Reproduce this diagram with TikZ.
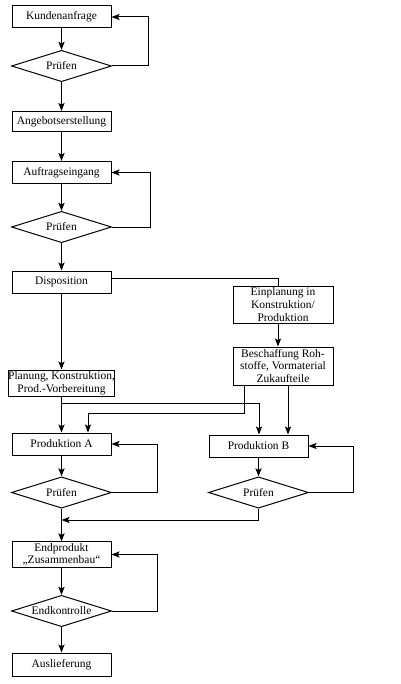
\documentclass[tikz,border=0pt]{standalone}
\usepackage{fontspec}
\setmainfont{Liberation Serif}
\usetikzlibrary{shapes.geometric,arrows.meta,calc}
\begin{document}
\begin{tikzpicture}[x=0.75pt,y=-0.75pt,
  every node/.style={font=\fontsize{8.6}{9.5}\selectfont},
  box/.style={draw,line width=0.75pt,rectangle,align=center,inner sep=0pt,minimum width=74.25pt,minimum height=16.5pt},
  dia/.style={draw,line width=0.75pt,diamond,aspect=3,inner sep=0pt,minimum width=75pt,minimum height=23.5pt},
  con/.style={line width=0.75pt},
  arr/.style={con,-{Stealth[length=6pt,width=4.6pt,inset=1.2pt]}}]
\useasboundingbox (0,0) rectangle (400,684);
\node[box] (k1) at (61.5,17) {Kundenanfrage};
\node[dia] (d1) at (61.5,66) {Prüfen};
\node[box,minimum height=15pt] (ang) at (61.5,121.5) {Angebotserstellung};
\node[box] (auf) at (61.5,172.5) {Auftragseingang};
\node[dia] (d2) at (61.5,227) {Prüfen};
\node[box] (disp) at (61.5,282) {Disposition};
\node[box,minimum width=75pt,minimum height=27.75pt] (einp) at (283,304.5) {Einplanung in\\Konstruktion/\\Produktion};
\node[box,minimum width=75pt,minimum height=28.5pt] (besch) at (283,366) {Beschaffung Roh-\\stoffe, Vormaterial\\Zukaufteile};
\node[box,minimum width=77.25pt,minimum height=19.5pt] (plan) at (61.5,383) {Planung, Konstruktion,\\Prod.-Vorbereitung};
\node[box] (pa) at (61.5,444) {Produktion A};
\node[box] (pb) at (258.5,446) {Produktion B};
\node[dia] (da) at (61.5,492.5) {Prüfen};
\node[dia] (db) at (258.5,492.5) {Prüfen};
\node[box,minimum height=19pt] (endp) at (61.5,554.5) {Endprodukt\\„Zusammenbau“};
\node[dia] (dend) at (61.5,611) {Endkontrolle};
\node[box,minimum height=17.25pt] (aus) at (61.5,664.5) {Auslieferung};
\coordinate (j) at (61.5,520);
% main chain
\draw[arr] (k1) -- (d1);
\draw[arr] (d1.east) -- ++(36,0) |- (k1.east);
\draw[arr] (d1) -- (ang);
\draw[arr] (ang) -- (auf);
\draw[arr] (auf) -- (d2);
\draw[arr] (d2.east) -- ++(38,0) |- (auf.east);
\draw[arr] (d2) -- (disp);
\draw[con] ($(disp.east)+(0,-4)$) -| ($(einp.north)+(-5,0)$);
\draw[arr] ($(einp.south)+(-5,0)$) -- ($(besch.north)+(-5,0)$);
\draw[arr] (disp) -- (plan);
\draw[arr] (plan) -- (pa);
\draw[arr] ($(plan.south)+(0,7)$) -| ($(pb.north)+(0.5,0)$);
\draw[arr] ($(besch.south)+(-39,0)$) |- ++(0,28) -| ($(pa.north)+(26.5,0)$);
\draw[arr] ($(besch.south)+(5,0)$) -- ($(pb.north)+(29.5,0)$);
\draw[arr] (pa) -- (da);
\draw[arr] (da.east) -- ++(45,0) |- (pa.east);
\draw[arr] (pb) -- (db);
\draw[arr] (db.east) -- ++(44,0) |- (pb.east);
\draw[arr] (db.south) |- (j);
\draw[arr] (da) -- (endp);
\draw[arr] (endp) -- (dend);
\draw[arr] (dend.east) -- ++(45,0) |- (endp.east);
\draw[arr] (dend) -- (aus);
\end{tikzpicture}
\end{document}
